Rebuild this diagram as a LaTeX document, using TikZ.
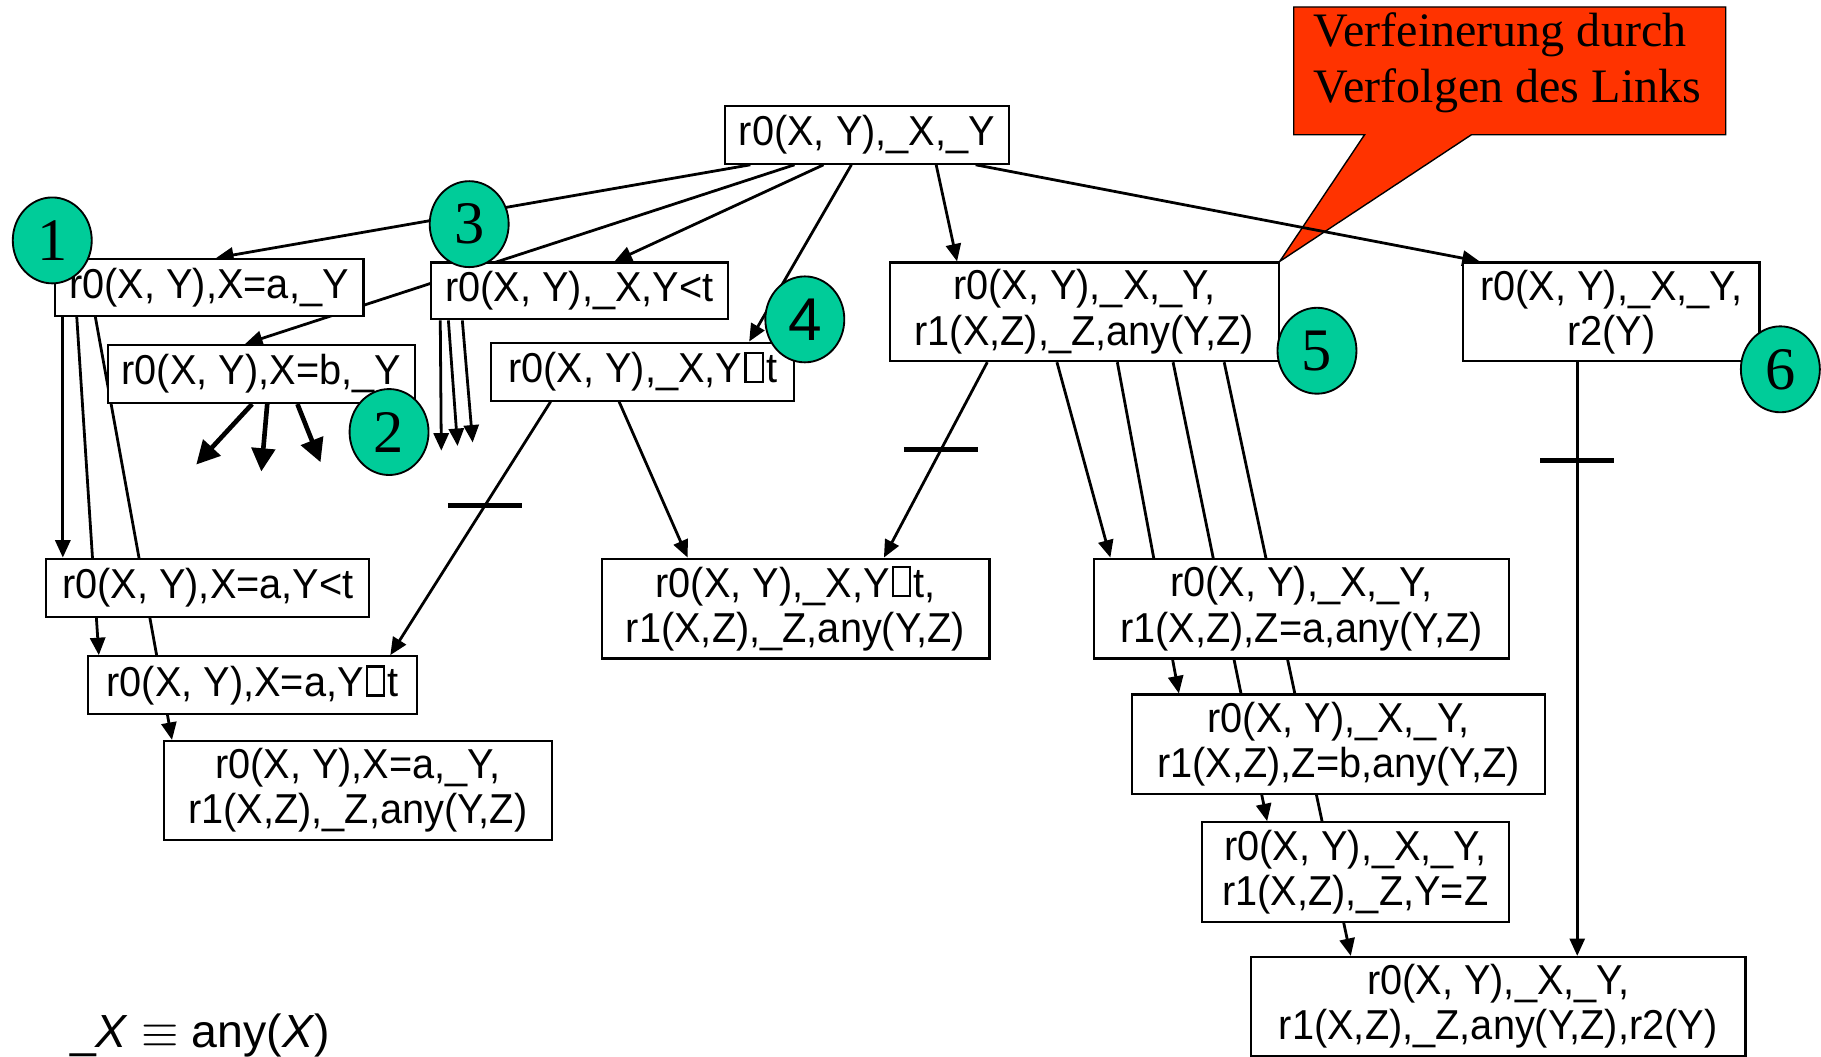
\documentclass[tikz,border=0pt]{standalone}
\usepackage{fontspec}
\usetikzlibrary{arrows.meta,shapes.geometric,calc}
\newfontfamily\boxfont[FakeStretch=0.95]{Liberation Sans}
\newfontfamily\legfont{Liberation Sans}
\newfontfamily\serfont{Liberation Serif}
\definecolor{callred}{RGB}{255,51,0}
\definecolor{badge}{RGB}{0,204,153}
\pgfdeclarelayer{bg}
\pgfdeclarelayer{edgelayer}
\pgfsetlayers{bg,edgelayer,main}
\newcommand{\gbox}{\kern0.05em\hbox{\vrule width .055em\vbox{\hrule height .055em\hbox to .36em{\vrule height .64em width 0pt\hss}\hrule height .055em}\vrule width .055em}\kern0.05em}
\tikzset{
  term/.style={draw, line width=0.9pt, fill=white, inner sep=0pt, align=center,
    font=\boxfont\fontsize{18}{19.5}\selectfont},
  badgenode/.style={ellipse, draw, line width=0.8pt, fill=badge, minimum width=34pt,
    minimum height=37pt, inner sep=0pt, font=\serfont\fontsize{26}{26}\selectfont},
  conn/.style={line width=1.2pt, -{Triangle[length=7.5pt,width=6.5pt]}},
  connbold/.style={line width=2pt, -{Triangle[length=10pt,width=10pt]}},
  cutbar/.style={line width=2pt},
}
\begin{document}
\begin{tikzpicture}[x=0.5pt,y=-0.5pt]
\useasboundingbox (0,0) rectangle (1568,910);

% boxes
\node[term, minimum width=122.5pt, minimum height=25pt] (top) at (746.5,116) {r0(X, Y),\_X,\_Y};
\node[term, minimum width=133pt, minimum height=24.5pt] (nA) at (180,247.5) {r0(X, Y),X=a,\_Y};
\node[term, minimum width=128pt, minimum height=24.5pt] (nLT) at (499,250.5) {r0(X, Y),\_X,Y<t};
\node[term, minimum width=132pt, minimum height=25pt] (nB) at (225,322) {r0(X, Y),X=b,\_Y};
\node[term, minimum width=130.5pt, minimum height=25pt] (nGE) at (553.5,320) {r0(X, Y),\_X,Y\gbox t};
\node[term, minimum width=167.5pt, minimum height=42.5pt] (n5) at (933.5,268.5) {r0(X, Y),\_X,\_Y,\\r1(X,Z),\_Z,any(Y,Z)};
\node[term, minimum width=127.5pt, minimum height=42.5pt] (n6) at (1387.5,268.5) {r0(X, Y),\_X,\_Y,\\r2(Y)};
\node[term, minimum width=139pt, minimum height=25pt] (aLT) at (179,506) {r0(X, Y),X=a,Y<t};
\node[term, minimum width=141.5pt, minimum height=25pt] (aGE) at (217.5,590) {r0(X, Y),X=a,Y\gbox t};
\node[term, minimum width=167pt, minimum height=42.5pt] (aR1) at (308,680.5) {r0(X, Y),X=a,\_Y,\\r1(X,Z),\_Z,any(Y,Z)};
\node[term, minimum width=167pt, minimum height=43pt] (geR1) at (685,524) {r0(X, Y),\_X,Y\gbox t,\\r1(X,Z),\_Z,any(Y,Z)};
\node[term, minimum width=178.5pt, minimum height=43pt] (zA) at (1120.5,524) {r0(X, Y),\_X,\_Y,\\r1(X,Z),Z=a,any(Y,Z)};
\node[term, minimum width=177.5pt, minimum height=43pt] (zB) at (1152.5,641) {r0(X, Y),\_X,\_Y,\\r1(X,Z),Z=b,any(Y,Z)};
\node[term, minimum width=132pt, minimum height=43pt] (yZ) at (1167,751) {r0(X, Y),\_X,\_Y,\\r1(X,Z),\_Z,Y=Z};
\node[term, minimum width=213pt, minimum height=42.5pt] (fin) at (1290,866.5) {r0(X, Y),\_X,\_Y,\\r1(X,Z),\_Z,any(Y,Z),r2(Y)};

% badges
\node[badgenode] (c1) at (45,207) {1};
\node[badgenode] (c3) at (404,193) {3};
\node[badgenode] (c2) at (335,372) {2};
\node[badgenode, font=\legfont\fontsize{26}{26}\selectfont] (c4) at (693,275) {4};
\node[badgenode] (c5) at (1134,302) {5};
\node[badgenode] (c6) at (1533,318) {6};

% free ends of dangling arrows
\coordinate (d1) at (380,388);
\coordinate (d2) at (394,384);
\coordinate (d3) at (407,381);
\coordinate (d4) at (169,400);
\coordinate (d5) at (225,406);
\coordinate (d6) at (276,398);

% legend
\node[anchor=base west, inner sep=0pt, font=\legfont\fontsize{20}{22}\selectfont] (legend) at (60,902)
  {\_\textit{X} $\equiv$ any(\textit{X})};

% callout
\begin{pgfonlayer}{bg}
\filldraw[fill=callred, draw=black, line width=0.6pt]
  (1114,6) -- (1486,6) -- (1486,116) -- (1267,116) -- (n5.north east) -- (1175,116) -- (1114,116) -- cycle;
\node[anchor=base west, inner sep=0pt, font=\serfont\fontsize{20.7}{24}\selectfont] (callA) at (1131,40) {Verfeinerung durch};
\node[anchor=base west, inner sep=0pt, font=\serfont\fontsize{20.7}{24}\selectfont] (callB) at (1131,88) {Verfolgen des Links};
\end{pgfonlayer}

% connectors
\begin{pgfonlayer}{edgelayer}
\draw[conn] ($(top.south west)+(23,0)$) -- ($(nA.north west)+(140,0)$);
\draw[conn] ($(top.south west)+(61,0)$) -- ($(nB.north west)+(119,0)$);
\draw[conn] ($(top.south west)+(86,0)$) -- ($(nLT.north west)+(159,0)$);
\draw[conn] ($(top.south west)+(110,0)$) -- ($(nGE.north west)+(223,0)$);
\draw[conn] ($(top.south west)+(183,0)$) -- ($(n5.north west)+(59,0)$);
\draw[conn] ($(top.south west)+(217,0)$) -- ($(n6.north west)+(15,0)$);

\draw[conn] ($(nA.south west)+(8,0)$) -- ($(aLT.north west)+(15,0)$);
\draw[conn] ($(nA.south west)+(20,0)$) -- ($(aGE.north west)+(10,0)$);
\draw[conn] ($(nA.south west)+(36,0)$) -- ($(aR1.north west)+(8,0)$);

\draw[conn] ($(nLT.south west)+(9,0)$) -- (d1);
\draw[conn] ($(nLT.south west)+(16,0)$) -- (d2);
\draw[conn] ($(nLT.south west)+(28,0)$) -- (d3);

\draw[connbold] ($(nB.south west)+(125,0)$) -- (d4);
\draw[connbold] ($(nB.south west)+(138,0)$) -- (d5);
\draw[connbold] ($(nB.south west)+(164,0)$) -- (d6);

\draw[conn] ($(nGE.south west)+(52,0)$) -- coordinate[pos=0.409] (b1) ($(aGE.north west)+(261,0)$);
\draw[conn] ($(nGE.south west)+(111,0)$) -- ($(geR1.north west)+(75,0)$);

\draw[conn] ($(n5.south west)+(85,0)$) -- coordinate[pos=0.447] (b2) ($(geR1.north west)+(244,0)$);
\draw[conn] ($(n5.south west)+(145,0)$) -- ($(zA.north west)+(15,0)$);
\draw[conn] ($(n5.south west)+(197,0)$) -- ($(zB.north west)+(41,0)$);
\draw[conn] ($(n5.south west)+(245,0)$) -- ($(yZ.north west)+(57,0)$);
\draw[conn] ($(n5.south west)+(289,0)$) -- ($(fin.north west)+(87,0)$);

\draw[conn] ($(n6.south west)+(99,0)$) -- coordinate[pos=0.166] (b3) ($(fin.north west)+(282,0)$);

\draw[cutbar] ($(b1)+(-32,0)$) -- ($(b1)+(32,0)$);
\draw[cutbar] ($(b2)+(-32,0)$) -- ($(b2)+(32,0)$);
\draw[cutbar] ($(b3)+(-32,0)$) -- ($(b3)+(32,0)$);
\end{pgfonlayer}
\end{tikzpicture}
\end{document}
